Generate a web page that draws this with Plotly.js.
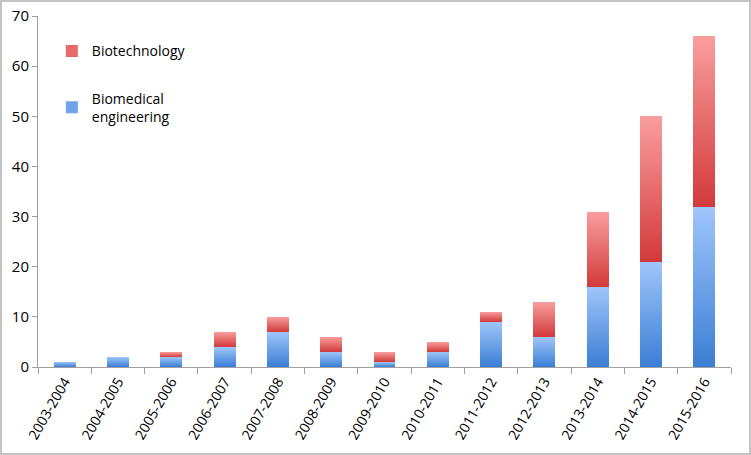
<!DOCTYPE html>
<html><head><meta charset="utf-8">
<script src="https://cdn.plot.ly/plotly-3.0.1.min.js"></script>
<style>
html,body{margin:0;padding:0;background:#fff;}
#wrap{width:747px;height:451px;border:2px solid #c4c4c4;}
</style></head>
<body><div id="wrap"><div id="chart" style="width:747px;height:451px;"></div></div>
<script>
const categories = ["2003-2004","2004-2005","2005-2006","2006-2007","2007-2008","2008-2009","2009-2010","2010-2011","2011-2012","2012-2013","2013-2014","2014-2015","2015-2016"];
const biomedical = [1,2,2,4,7,3,1,3,9,6,16,21,32];
const biotechnology = [0,0,1,3,3,3,2,2,2,7,15,29,34];
const yTicks = [0,10,20,30,40,50,60,70];

const fam = "Open Sans, Noto Sans, sans-serif";
const traces = [
  {type:"bar", x:categories, y:biomedical, name:"Biomedical<br>engineering", legendgroup:"a", legendrank:2, marker:{color:"#6fa3ea"}},
  {type:"bar", x:categories, y:biotechnology, name:"Biotechnology", legendgroup:"b", legendrank:1, marker:{color:"#e86a6a"}}
];
const layout = {
  width:747, height:451,
  margin:{l:36,r:18,t:14,b:86},
  barmode:"stack", bargap:0.59,
  paper_bgcolor:"#fff", plot_bgcolor:"#fff",
  font:{family:fam, size:14, color:"#000"},
  showlegend:true,
  legend:{x:0.02,y:0.945,xanchor:"left",yanchor:"top",traceorder:"grouped",
    font:{family:fam,size:14,color:"#000"},
    tracegroupgap:26, itemwidth:30, bgcolor:"rgba(0,0,0,0)"},
  xaxis:{type:"category", showline:true, linecolor:"#a0a0a0", linewidth:1,
    ticks:"outside", tickson:"boundaries", ticklen:6, tickcolor:"#a0a0a0",
    tickangle:-60, tickfont:{size:14}, showgrid:false, zeroline:false},
  yaxis:{range:[0,70], tickvals:yTicks, ticktext:yTicks.map(String), showline:true, linecolor:"#a0a0a0",
    linewidth:1, ticks:"outside", ticklen:5, tickcolor:"#a0a0a0", showgrid:false, zeroline:false,
    tickfont:{size:15}}
};
Plotly.newPlot("chart", traces, layout, {displayModeBar:false, staticPlot:true}).then(function(gd){
  const svg = gd.querySelector("svg.main-svg");
  const ns = "http://www.w3.org/2000/svg";
  let defs = svg.querySelector("defs");
  function grad(id, top, bot){
    const g = document.createElementNS(ns,"linearGradient");
    g.setAttribute("id",id); g.setAttribute("x1","0"); g.setAttribute("y1","0");
    g.setAttribute("x2","0"); g.setAttribute("y2","1");
    const s1 = document.createElementNS(ns,"stop"); s1.setAttribute("offset","0"); s1.setAttribute("stop-color",top);
    const s2 = document.createElementNS(ns,"stop"); s2.setAttribute("offset","1"); s2.setAttribute("stop-color",bot);
    g.appendChild(s1); g.appendChild(s2); defs.appendChild(g);
  }
  grad("gBlue","#9fc6fc","#3b7ed4");
  grad("gRed","#fa9e9e","#d23a3a");
  const groups = gd.querySelectorAll(".barlayer .trace");
  groups.forEach(function(t,i){
    t.querySelectorAll("path").forEach(function(p){ p.style.fill = i===0 ? "url(#gBlue)" : "url(#gRed)"; });
  });
});
</script></body></html>
